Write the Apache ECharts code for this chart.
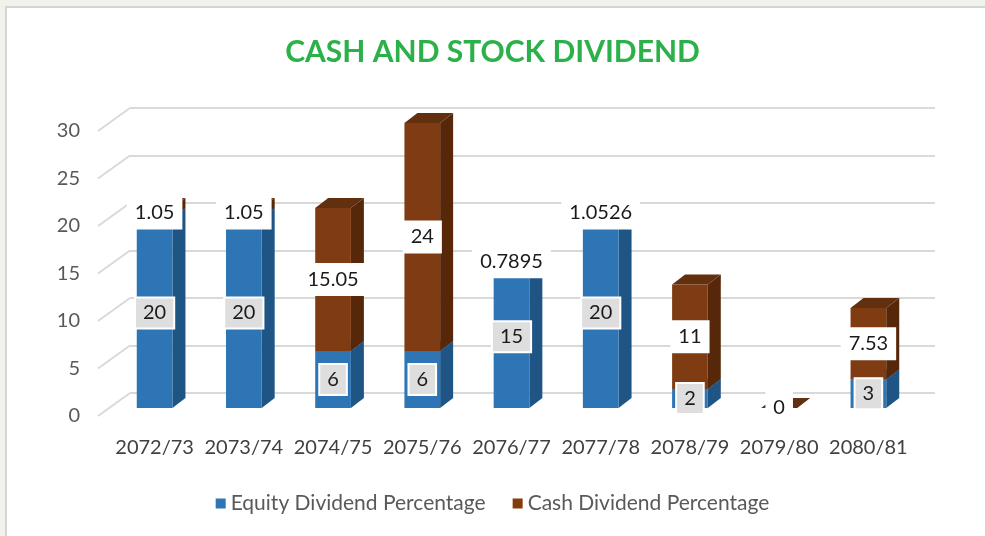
<!DOCTYPE html>
<html>
<head>
<meta charset="utf-8">
<title>Cash and Stock Dividend</title>
<script src="https://cdn.jsdelivr.net/npm/echarts@6/dist/echarts.min.js"></script>
<style>
	html, body {
		margin: 0;
		padding: 0;
		background: #f2f2ec;
	}

	.frame {
		position: absolute;
		left: 5px;
		top: 6px;
		width: 980px;
		height: 530px;
		background: #fff;
		border-left: 2px solid #d4d4d4;
		border-top: 2px solid #d4d4d4;
	}

	#chart {
		position: absolute;
		left: 0;
		top: 0;
		width: 985px;
		height: 536px;
	}
</style>
</head>
<body>
<div class="frame"></div>
<div id="chart"></div>
<script>
	// 年份
	var years = ['2072/73', '2073/74', '2074/75', '2075/76', '2076/77', '2077/78', '2078/79', '2079/80', '2080/81'];
	// 股票股息
	var equityDividend = [20, 20, 6, 6, 15, 20, 2, 0, 3];
	// 现金股息
	var cashDividend = [1.05, 1.05, 15.05, 24, 0.7895, 1.0526, 11, 0, 7.53];
	// 纵轴刻度
	var yTicks = [0, 5, 10, 15, 20, 25, 30];

	var FONT = 'Lato, "Noto Sans", sans-serif';

	var equityData = years.map(function(y, i) {
		return [i, 0, equityDividend[i], equityDividend[i]];
	});
	var cashData = years.map(function(y, i) {
		return [i, equityDividend[i], equityDividend[i] + cashDividend[i], cashDividend[i]];
	});

	// 画一个带侧面和顶面的柱子
	function bar3d(colors, labelBox, hideZero) {
		return function(params, api) {
			var p0 = api.coord([api.value(0), api.value(1)]);
			var p1 = api.coord([api.value(0), api.value(2)]);
			var w = api.size([1, 0])[0] * 0.4;
			var dx = 13,
				dy = -10;
			var x0 = p0[0] - w / 2,
				x1 = p0[0] + w / 2;
			var yb = p0[1],
				yt = p1[1];
			var v = api.value(3);
			var children = [{
					type: 'polygon',
					shape: {
						points: [[x1, yb], [x1 + dx, yb + dy], [x1 + dx, yt + dy], [x1, yt]]
					},
					style: {
						fill: colors.side
					}
				},
				{
					type: 'polygon',
					shape: {
						points: [[x0, yt], [x0 + dx, yt + dy], [x1 + dx, yt + dy], [x1, yt]]
					},
					style: {
						fill: colors.top
					}
				},
				{
					type: 'rect',
					shape: {
						x: x0,
						y: yt,
						width: w,
						height: yb - yt
					},
					style: {
						fill: colors.front
					}
				}
			];
			if (!(hideZero && v === 0)) {
				children.push({
					type: 'text',
					z2: 100,
					style: {
						x: p0[0],
						y: (yb + yt) / 2,
						text: String(v),
						align: 'center',
						verticalAlign: 'middle',
						font: '20px ' + FONT,
						fill: '#1a1a1a',
						backgroundColor: labelBox.bg,
						borderColor: labelBox.border,
						borderWidth: labelBox.borderWidth,
						padding: labelBox.padding
					}
				});
			}
			return {
				type: 'group',
				children: children
			};
		};
	}

	// 后墙上的斜线
	function wallDiagonal(params, api) {
		var y = api.coord([0, api.value(0)])[1];
		var x = params.coordSys.x;
		return {
			type: 'line',
			shape: {
				x1: x - 32,
				y1: y + 23,
				x2: x,
				y2: y
			},
			style: {
				stroke: '#d9d9d9',
				lineWidth: 2
			}
		};
	}

	var myChart = echarts.init(document.getElementById('chart'));

	var option = {
		backgroundColor: 'transparent',
		animation: false,
		title: {
			text: 'CASH AND STOCK DIVIDEND',
			left: 'center',
			top: 32,
			textStyle: {
				color: '#2cb14a',
				fontFamily: FONT,
				fontWeight: 'bold',
				fontSize: 30
			}
		},
		legend: {
			bottom: 17,
			left: 'center',
			icon: 'rect',
			itemWidth: 10,
			itemHeight: 10,
			itemGap: 27,
			textStyle: {
				color: '#595959',
				fontFamily: FONT,
				fontSize: 21
			},
			data: ['Equity Dividend Percentage', 'Cash Dividend Percentage']
		},
		grid: [{
				left: 110,
				right: 72,
				top: 123,
				bottom: 128
			},
			{
				left: 130,
				right: 50,
				top: 108,
				bottom: 143
			},
			{
				// 前面的刻度标签
				left: 110,
				right: 72,
				top: 131,
				bottom: 120
			}
		],
		xAxis: [{
				type: 'category',
				gridIndex: 0,
				data: years,
				axisLine: {
					show: false
				},
				axisTick: {
					show: false
				},
				axisLabel: {
					interval: 0,
					margin: 30,
					color: '#404040',
					fontFamily: FONT,
					fontSize: 20
				}
			},
			{
				type: 'category',
				gridIndex: 1,
				data: years,
				show: false
			},
			{
				type: 'category',
				gridIndex: 2,
				data: years,
				show: false
			}
		],
		yAxis: [{
				type: 'value',
				gridIndex: 0,
				min: 0,
				max: 30,
				interval: 5,
				show: false
			},
			{
				type: 'value',
				gridIndex: 1,
				min: 0,
				max: 30,
				interval: 5,
				axisLine: {
					show: false
				},
				axisTick: {
					show: false
				},
				axisLabel: {
					show: false
				},
				splitLine: {
					lineStyle: {
						color: '#d9d9d9',
						width: 2
					}
				}
			},
			{
				type: 'value',
				gridIndex: 2,
				min: 0,
				max: 30,
				interval: 5,
				splitLine: {
					show: false
				},
				axisLine: {
					show: false
				},
				axisTick: {
					show: false
				},
				axisLabel: {
					margin: 30,
					color: '#595959',
					fontFamily: FONT,
					fontSize: 20
				}
			}
		],
		series: [{
				name: 'wall',
				type: 'custom',
				xAxisIndex: 1,
				yAxisIndex: 1,
				silent: true,
				data: yTicks.map(function(t) {
					return [t];
				}),
				encode: {
					y: 0
				},
				renderItem: wallDiagonal
			},
			{
				name: 'Equity Dividend Percentage',
				type: 'custom',
				xAxisIndex: 0,
				yAxisIndex: 0,
				itemStyle: {
					color: '#2e75b6'
				},
				data: equityData,
				encode: {
					x: 0,
					y: [1, 2]
				},
				renderItem: bar3d({
					front: '#2e75b6',
					side: '#1f5585',
					top: '#2a6aa6'
				}, {
					bg: '#dedede',
					border: '#ffffff',
					borderWidth: 2,
					padding: [5, 7, 4, 7]
				}, true)
			},
			{
				name: 'Cash Dividend Percentage',
				type: 'custom',
				xAxisIndex: 0,
				yAxisIndex: 0,
				itemStyle: {
					color: '#843c0c'
				},
				data: cashData,
				encode: {
					x: 0,
					y: [1, 2]
				},
				renderItem: bar3d({
					front: '#7f3c12',
					side: '#57270a',
					top: '#62300f'
				}, {
					bg: '#ffffff',
					border: '#ffffff',
					borderWidth: 0,
					padding: [7, 8, 6, 8]
				}, false)
			}
		]
	};

	myChart.setOption(option);
</script>
</body>
</html>
